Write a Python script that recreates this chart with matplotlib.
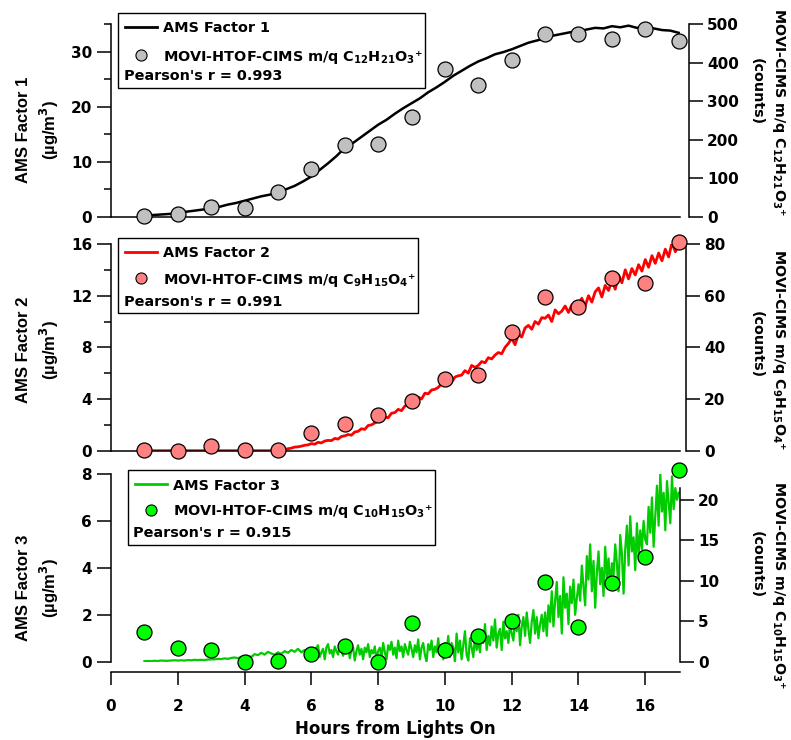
import numpy as np
import matplotlib
matplotlib.use("Agg")
from matplotlib import pyplot as plt
from matplotlib.lines import Line2D
from matplotlib.patches import Rectangle
from matplotlib.transforms import Affine2D

plt.rcParams['font.family'] = ['DejaVu Sans']
plt.rcParams['font.weight'] = 'bold'
plt.rcParams['mathtext.fontset'] = 'custom'
plt.rcParams['mathtext.rm'] = 'DejaVu Sans:bold'
plt.rcParams['mathtext.it'] = 'DejaVu Sans:bold'
plt.rcParams['mathtext.bf'] = 'DejaVu Sans:bold'
plt.rcParams['axes.linewidth'] = 1.1

# hourly MOVI-HTOF-CIMS points (counts, right axes)
hours = [1, 2, 3, 4, 5, 6, 7, 8, 9, 10, 11, 12, 13, 14, 15, 16, 17]
cims1 = [2, 6, 24, 22, 64, 124, 186, 188, 259, 382, 343, 406, 473, 473, 461, 486, 456]
cims2 = [0.1, 0, 2.0, 0.1, 0.1, 6.8, 10.2, 13.8, 19.2, 27.6, 29.4, 46.0, 59.4, 55.6, 66.8, 64.9, 80.6]
cims3 = [3.7, 1.7, 1.4, 0, 0.1, 0.95, 2.0, 0, 4.75, 1.45, 3.2, 5.0, 9.8, 4.3, 9.7, 12.95, 23.7]

ams1 = [0.3, 0.3, 0.4, 0.5, 0.7, 0.9, 1.1, 1.3, 1.5, 1.8, 2.2, 2.5, 2.9, 3.3, 3.7, 4.0,
        4.4, 5.0, 5.6, 6.4, 7.3, 8.5, 9.7, 11.0, 12.5, 13.4, 14.5, 15.6, 16.7, 17.6, 18.7,
        19.7, 20.6, 21.5, 22.6, 23.5, 24.5, 25.6, 26.5, 27.4, 28.2, 28.8, 29.5, 29.9, 30.4,
        31.0, 31.6, 32.0, 32.4, 32.9, 33.2, 33.5, 33.7, 34.0, 34.3, 34.2, 34.6, 34.4, 34.7,
        34.3, 34.5, 34.2, 33.9, 33.8, 33.4]
ams2 = [0.0] * 41 + [
    0.05, 0.1, 0.15, 0.2, 0.28, 0.3, 0.35, 0.42, 0.45, 0.55,
    0.5, 0.65, 0.6, 0.75, 0.8, 0.78, 0.95, 0.9, 1.1, 1.15,
    1.25, 1.2, 1.45, 1.5, 1.7, 1.65, 1.95, 2.0, 2.15, 2.3,
    2.35, 2.6, 2.55, 2.9, 2.95, 3.2, 3.1, 3.45, 3.6, 3.8,
    3.9, 4.15, 4.0, 4.45, 4.4, 4.7, 4.75, 4.9, 5.2, 5.1,
    5.45, 5.3, 5.7, 5.8, 5.85, 6.2, 6.0, 6.6, 6.45, 6.6,
    6.9, 6.8, 7.2, 7.1, 7.4, 7.6, 7.5, 8.0, 8.3, 8.7,
    8.2, 9.0, 8.8, 9.5, 9.7, 9.4, 10.0, 9.8, 10.3, 10.25,
    10.5, 10.0, 10.9, 10.6, 10.8, 11.2, 10.7, 11.3, 11.0, 11.4,
    11.8, 11.2, 12.0, 11.5, 12.3, 12.6, 11.9, 12.8, 12.4, 13.2,
    12.5, 13.6, 13.0, 14.0, 13.3, 14.1, 13.6, 14.4, 13.9, 14.8,
    14.2, 15.1, 14.5, 15.3, 14.7, 15.6, 15.0, 16.1, 15.4, 15.9]
# factor 3: hours 1-6 every 0.1 h, then every 0.05 h up to 17
ams3_early = [0.02, 0.03, 0.02, 0.04, 0.03, 0.05, 0.04, 0.04, 0.05, 0.06,
              0.05, 0.06, 0.05, 0.07, 0.06, 0.08, 0.07, 0.08, 0.07, 0.09, 0.1,
              0.1, 0.12, 0.11, 0.14, 0.12, 0.16, 0.18, 0.15, 0.2, 0.17,
              0.25, 0.2, 0.32, 0.28, 0.38, 0.3, 0.42, 0.35, 0.3, 0.4,
              0.33, 0.45, 0.38, 0.5, 0.42, 0.55, 0.4, 0.5, 0.45, 0.52]
ams3_late = [
    0.5, 0.3, 0.6, 0.7, 0.2, 0.4, 0.55, 0.1, 0.6, 0.75, 0.35, 0.5, 0.2, 0.65, 0.45, 0.3, 0.7, 0.5, 0.25, 0.6,
    0.4, 0.7, 0.15, 0.5, 0.6, 0.05, 0.45, 0.7, 0.3, 0.55, 0.1, 0.6, 0.4, 0.75, 0.2, 0.5, 0.35, 0.65, 0.1, 0.45,
    0.6, 0.2, 0.8, 0.4, 0.1, 0.7, 0.5, 0.85, 0.3, 0.6, 0.15, 0.9, 0.45, 0.65, 0.2, 0.75, 0.5, 0.3, 0.85, 0.55,
    0.2, 0.7, 0.4, 0.95, 0.1, 0.6, 0.8, 0.3, 0.0, 0.75, 0.5, 0.9, 0.2, 0.65, 0.4, 1.0, 0.3, 0.6, 0.1, 0.8,
    0.5, 1.1, 0.2, 0.8, 0.6, 0.0, 1.2, 0.4, 0.9, 0.1, 0.7, 1.3, 0.3, 0.05, 1.0, 0.6, 0.2, 1.1, 0.5, 0.9,
    0.4, 1.3, 0.8, 1.6, 0.5, 1.1, 0.7, 1.5, 0.9, 1.8, 0.6, 1.2, 1.4, 0.5, 1.7, 1.0, 1.3, 0.8, 1.6, 1.2,
    0.9, 1.8, 1.3, 2.0, 0.7, 1.5, 1.9, 1.1, 2.1, 1.4, 0.8, 1.7, 2.2, 1.2, 1.9, 1.0, 1.6, 2.0, 1.3, 2.1,
    1.1, 2.4, 1.7, 3.0, 1.5, 2.6, 3.4, 1.9, 2.8, 1.2, 3.6, 2.3, 2.9, 1.6, 3.2, 2.5, 3.5, 2.0, 2.7, 3.3,
    2.6, 4.1, 3.2, 2.4, 4.5, 3.5, 5.0, 3.0, 4.3, 2.3, 3.8, 4.7, 3.3, 4.0, 2.8, 4.9, 3.6, 4.4, 3.1, 4.2,
    3.7, 5.0, 4.2, 3.0, 5.4, 4.6, 2.9, 4.8, 5.8, 4.1, 6.2, 4.7, 5.3, 3.9, 5.9, 4.5, 5.6, 4.8, 6.0, 5.2,
    5.0, 6.6, 5.5, 7.0, 4.9, 6.2, 7.5, 5.8, 8.0, 6.4, 7.2, 5.6, 7.7, 6.8, 5.9, 7.9, 6.5, 7.4, 6.9, 7.2]

t1 = np.linspace(1, 17, len(ams1))
t2 = np.linspace(1, 17, len(ams2))
t3 = np.concatenate([np.linspace(1, 6, len(ams3_early)), np.linspace(6.05, 17, len(ams3_late))])
ams3 = ams3_early + ams3_late

factor_names = ["AMS Factor 1", "AMS Factor 2", "AMS Factor 3"]
ions = ["C$_{12}$H$_{21}$O$_3$⁺", "C$_9$H$_{15}$O$_4$⁺", "C$_{10}$H$_{15}$O$_3$⁺"]
pearson = ["0.993", "0.991", "0.915"]

W, H = 791, 740
fig = plt.figure(figsize=(W / 100, H / 100), dpi=100)
pix = Affine2D().scale(1 / W, -1 / H).translate(0, 1) + fig.transFigure

panels = [
    dict(top=24, bot=216.7, lc="black", mc="#c0c0c0", t=t1, ams=ams1, cims=cims1, lw=1.8,
         ylim=35, ymaj=[0, 10, 20, 30], ymin=[5, 15, 25, 35],
         rlim=500, rticks=[0, 100, 200, 300, 400, 500], roff=9, rtop=500,
         box=(118.4, 13.3, 307, 74.4), rows=(13.4, 41.7, 61.7),
         ylab_y=130, rlab_y=(112, 92)),
    dict(top=244, bot=450.7, lc="#ff0000", mc="#ff8080", t=t2, ams=ams2, cims=cims2, lw=2.0,
         ylim=16, ymaj=[0, 4, 8, 12, 16], ymin=[2, 6, 10, 14],
         rlim=80, rticks=[0, 20, 40, 60, 80], roff=6, rtop=80,
         box=(118.4, 238.3, 300, 74.4), rows=(13.4, 40, 61.7),
         ylab_y=350, rlab_y=(350, 345)),
    dict(top=474, bot=661.7, lc="#00cc00", mc="#00ff00", t=t3, ams=ams3, cims=cims3, lw=1.6,
         ylim=8, ymaj=[0, 2, 4, 6, 8], ymin=[],
         rlim=23.2, rticks=[0, 5, 10, 15, 20], roff=0, rtop=21.5,
         box=(128, 470, 306.5, 75), rows=(14.3, 40, 61.7),
         ylab_y=588, rlab_y=(585, 565)),
]

for i, p in enumerate(panels):
    ax = fig.add_axes([111 / W, 1 - p["bot"] / H, 569 / W, (p["bot"] - p["top"]) / H])
    ax.plot(p["t"], p["ams"], color=p["lc"], lw=p["lw"], zorder=2)
    ax.set_xlim(0, 17.04)
    ax.set_ylim(0, p["ylim"])
    ax.set_yticks(p["ymaj"])
    ax.set_yticks(p["ymin"], minor=True)
    ax.spines["top"].set_visible(False)
    ax.spines["right"].set_visible(False)
    ax.tick_params(axis="y", which="major", direction="out", length=10, width=1.1,
                   labelsize=11, pad=3.5)
    ax.tick_params(axis="y", which="minor", direction="out", length=5, width=1.1)
    if i < 2:
        ax.tick_params(axis="x", length=0, labelbottom=False)
    else:
        ax.spines["bottom"].set_position(("outward", 7.5))
        ax.set_xticks(range(0, 17, 2))
        ax.tick_params(axis="x", direction="out", length=9.5, width=1.1,
                       labelsize=11, pad=9.5)
        ax.set_xlabel("Hours from Lights On", fontsize=12, fontweight="bold", labelpad=5)

    tw = ax.twinx()
    tw.plot(hours, p["cims"], "o", ms=10.8, mfc=p["mc"], mec="black", mew=0.9,
            clip_on=False, zorder=3)
    tw.set_ylim(0, p["rlim"])
    tw.set_yticks(p["rticks"])
    for s in ["top", "left", "bottom"]:
        tw.spines[s].set_visible(False)
    tw.spines["right"].set_position(("outward", p["roff"] * 0.72))
    tw.spines["right"].set_bounds(0, p["rtop"])
    tw.tick_params(axis="y", direction="out", length=10, width=1.1,
                   labelsize=11, pad=3)

    # axis titles
    fig.text(38.5, p["ylab_y"], factor_names[i] + "\n(µg/m$^3$)", transform=pix,
             rotation=90, ha="center", va="center", multialignment="center",
             linespacing=1.4, fontsize=12, fontweight="bold", family=["Liberation Sans"])
    fig.text(778, p["rlab_y"][0], "MOVI-CIMS m/q " + ions[i], transform=pix,
             rotation=270, ha="center", va="center", fontsize=10.3, fontweight="bold")
    fig.text(757, p["rlab_y"][1], "(counts)", transform=pix,
             rotation=270, ha="center", va="center", fontsize=10.3, fontweight="bold")

    # legend box
    bx, by, bw, bh = p["box"]
    r1, r2, r3 = p["rows"]
    fig.add_artist(Rectangle((bx, by), bw, bh, transform=pix, fill=True,
                             facecolor="white", edgecolor="black", lw=1.0, zorder=5))
    fig.add_artist(Line2D([bx + 6.6, bx + 39], [by + r1, by + r1], transform=pix,
                          color=p["lc"], lw=2.0, zorder=6))
    fig.add_artist(Line2D([bx + 22.6], [by + r2], transform=pix, marker="o", ls="none",
                          ms=8, mfc=p["mc"], mec="black", mew=0.8, zorder=6))
    fig.text(bx + 45, by + r1 + 5.5, factor_names[i], transform=pix, ha="left",
             va="baseline", fontsize=10.4, fontweight="bold", zorder=6)
    fig.text(bx + 45, by + r2 + 5.5, "MOVI-HTOF-CIMS m/q " + ions[i], transform=pix,
             ha="left", va="baseline", fontsize=10.4, fontweight="bold", zorder=6)
    fig.text(bx + 5.4, by + r3 + 5.5, "Pearson's r = " + pearson[i], transform=pix,
             ha="left", va="baseline", fontsize=10.4, fontweight="bold", zorder=6)

fig.savefig("out.png", dpi=100)
